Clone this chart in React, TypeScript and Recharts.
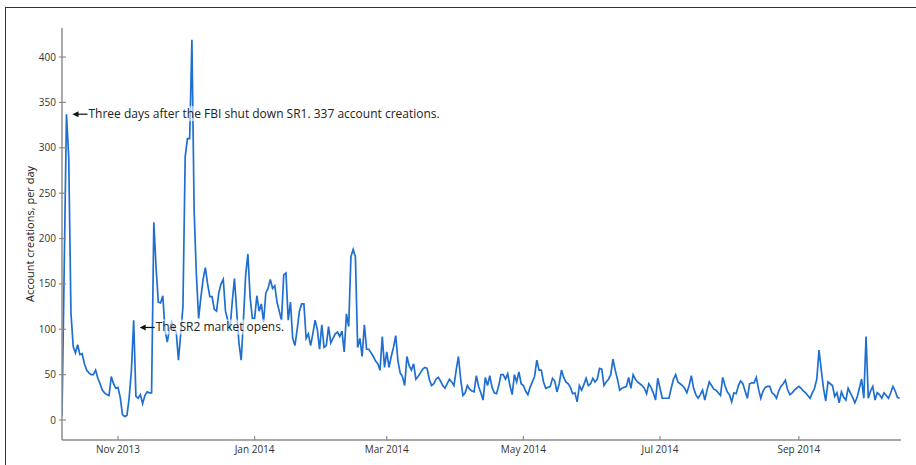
import React from 'react';
import { LineChart, Line, XAxis, YAxis, ReferenceDot } from 'recharts';

// daily account creations, first value is 7 Oct 2013
const startDate = '2013-10-07';
const creations = [
  5, 170, 337, 290, 118, 81, 74, 83, 72, 73,
  62, 55, 52, 50, 50, 55, 46, 40, 33, 30,
  28, 27, 48, 40, 35, 36, 25, 6, 4, 5,
  25, 55, 110, 26, 24, 28, 18, 27, 31, 30,
  30, 218, 168, 130, 129, 137, 99, 86, 100, 108,
  100, 97, 66, 95, 125, 290, 310, 310, 419, 230,
  160, 112, 135, 155, 168, 150, 136, 136, 122, 120,
  140, 150, 155, 120, 110, 100, 130, 156, 120, 85,
  66, 110, 160, 183, 135, 112, 112, 137, 120, 128,
  108, 140, 145, 155, 145, 148, 130, 120, 110, 160,
  162, 110, 130, 90, 82, 100, 120, 128, 128, 90,
  95, 82, 95, 110, 100, 78, 105, 80, 82, 103,
  85, 90, 95, 97, 92, 98, 75, 117, 103, 180,
  188, 180, 80, 90, 70, 105, 78, 78, 74, 70,
  65, 62, 55, 92, 58, 75, 58, 70, 80, 93,
  65, 52, 48, 38, 70, 60, 55, 62, 45, 48,
  52, 56, 58, 57, 45, 38, 40, 45, 47, 43,
  38, 35, 40, 45, 42, 38, 55, 70, 45, 27,
  30, 38, 34, 32, 31, 49, 37, 30, 22, 47,
  38, 49, 36, 30, 29, 38, 50, 50, 45, 51,
  38, 28, 50, 42, 53, 40, 38, 32, 28, 36,
  42, 48, 66, 55, 55, 42, 35, 36, 37, 46,
  43, 31, 40, 55, 47, 42, 40, 36, 29, 30,
  20, 38, 33, 39, 46, 38, 40, 46, 42, 45,
  57, 56, 38, 42, 45, 50, 67, 55, 45, 33,
  35, 36, 37, 47, 35, 50, 45, 42, 40, 38,
  35, 29, 40, 36, 30, 22, 46, 35, 24, 24,
  24, 24, 35, 45, 50, 42, 40, 38, 35, 30,
  38, 49, 35, 28, 24, 28, 33, 22, 33, 42,
  38, 34, 33, 30, 27, 47, 38, 31, 28, 20,
  30, 29, 38, 43, 40, 32, 24, 40, 41, 41,
  47, 34, 24, 32, 36, 37, 37, 30, 28, 24,
  32, 37, 40, 44, 33, 28, 30, 33, 35, 37,
  35, 32, 30, 27, 24, 30, 35, 45, 77, 55,
  35, 21, 42, 40, 38, 26, 30, 19, 31, 25,
  22, 35, 30, 25, 19, 25, 35, 45, 24, 92,
  24, 32, 37, 22, 30, 28, 24, 30, 27, 24,
  30, 37, 32, 25, 24,
];

const tickDates = ['2013-11-01', '2014-01-01', '2014-03-01', '2014-05-01', '2014-07-01', '2014-09-01'];
const tickLabels = ['Nov 2013', 'Jan 2014', 'Mar 2014', 'May 2014', 'Jul 2014', 'Sep 2014'];
const yTicks = [0, 50, 100, 150, 200, 250, 300, 350, 400];

const dayOf = (s: string) => Math.round((Date.parse(s) - Date.parse(startDate)) / 86400000);
const data = creations.map((v, i) => ({ day: i, value: v }));
const xTicks = tickDates.map(dayOf);

const spine = '#8c8c8c';
const font = '"Open Sans", sans-serif';

const BottomTick = (props: any) => {
  const { x, y, payload } = props;
  const idx = xTicks.indexOf(payload.value);
  return (
    <g>
      <line x1={x} y1={y} x2={x} y2={y - 4} stroke={spine} strokeWidth={1.2} />
      <text x={x} y={y + 13} textAnchor="middle" fontSize={10} fontFamily={font} fill="#333">
        {tickLabels[idx]}
      </text>
    </g>
  );
};

const LeftTick = (props: any) => {
  const { x, y, payload } = props;
  return (
    <g>
      <line x1={x - 3} y1={y} x2={x + 4} y2={y} stroke={spine} strokeWidth={1.2} />
      <text x={x - 6} y={y + 3.5} textAnchor="end" fontSize={10} fontFamily={font} fill="#333">
        {payload.value}
      </text>
    </g>
  );
};

const makeNote = (text: string, boxWidth: number) => (props: any) => {
  const { cx, cy } = props;
  const tip = cx + 6;
  const tail = cx + 21;
  return (
    <g>
      <rect x={tail} y={cy - 8} width={boxWidth} height={15} fill="#fff" fillOpacity={0.6} />
      <line x1={tail} y1={cy} x2={tip + 5} y2={cy} stroke="#111" strokeWidth={1.2} />
      <path d={`M${tip},${cy} L${tip + 6},${cy - 3} L${tip + 6},${cy + 3} Z`} fill="#111" />
      <text x={tail + 1} y={cy + 4} fontSize={12} fontFamily={font} fill="#222">
        {text}
      </text>
    </g>
  );
};

export default function App() {
  return (
    <div style={{ position: 'absolute', left: 0, top: 0, width: 916, height: 465, background: '#fff', overflow: 'hidden' }}>
      <div style={{ position: 'absolute', left: 5, top: 7, width: 1000, height: 1000, borderTop: '1.5px solid #333', borderLeft: '1.5px solid #333' }} />
      <div style={{ position: 'absolute', left: 0, top: 0 }}>
        <LineChart width={916} height={465} data={data} margin={{ top: 28, right: 15, bottom: 0, left: 22 }}>
          <XAxis
            dataKey="day"
            type="number"
            domain={[0, 374.6]}
            allowDataOverflow
            ticks={xTicks}
            tick={<BottomTick />}
            tickLine={false}
            tickSize={0}
            tickMargin={0}
            height={25}
            axisLine={{ stroke: spine, strokeWidth: 1.5 }}
          />
          <XAxis
            xAxisId="top"
            dataKey="day"
            type="number"
            orientation="top"
            mirror
            height={0}
            domain={[0, 374.6]}
            allowDataOverflow
            ticks={xTicks}
            tick={false}
            tickSize={4}
            tickLine={{ stroke: spine, strokeWidth: 1.2 }}
            axisLine={{ stroke: spine, strokeWidth: 1.5 }}
          />
          <YAxis
            type="number"
            domain={[-22, 432]}
            allowDataOverflow
            ticks={yTicks}
            tick={<LeftTick />}
            tickLine={false}
            tickSize={0}
            tickMargin={0}
            width={40}
            axisLine={{ stroke: spine, strokeWidth: 1.5 }}
            label={{ value: 'Account creations, per day', angle: -90, position: 'center', dx: -12, fontSize: 11, fontFamily: font, fill: '#222' }}
          />
          <YAxis
            yAxisId="right"
            type="number"
            orientation="right"
            mirror
            width={0}
            domain={[-22, 432]}
            allowDataOverflow
            ticks={yTicks}
            tick={false}
            tickSize={4}
            tickLine={{ stroke: spine, strokeWidth: 1.2 }}
            axisLine={{ stroke: spine, strokeWidth: 1.5 }}
          />
          <Line
            type="linear"
            dataKey="value"
            stroke="#1f6fd1"
            strokeWidth={1.7}
            dot={false}
            isAnimationActive={false}
          />
          <ReferenceDot
            x={2}
            y={337}
            r={0}
            shape={makeNote('Three days after the FBI shut down SR1. 337 account creations.', 350)}
          />
          <ReferenceDot x={32} y={102} r={0} shape={makeNote('The SR2 market opens.', 128)} />
        </LineChart>
      </div>
    </div>
  );
}
